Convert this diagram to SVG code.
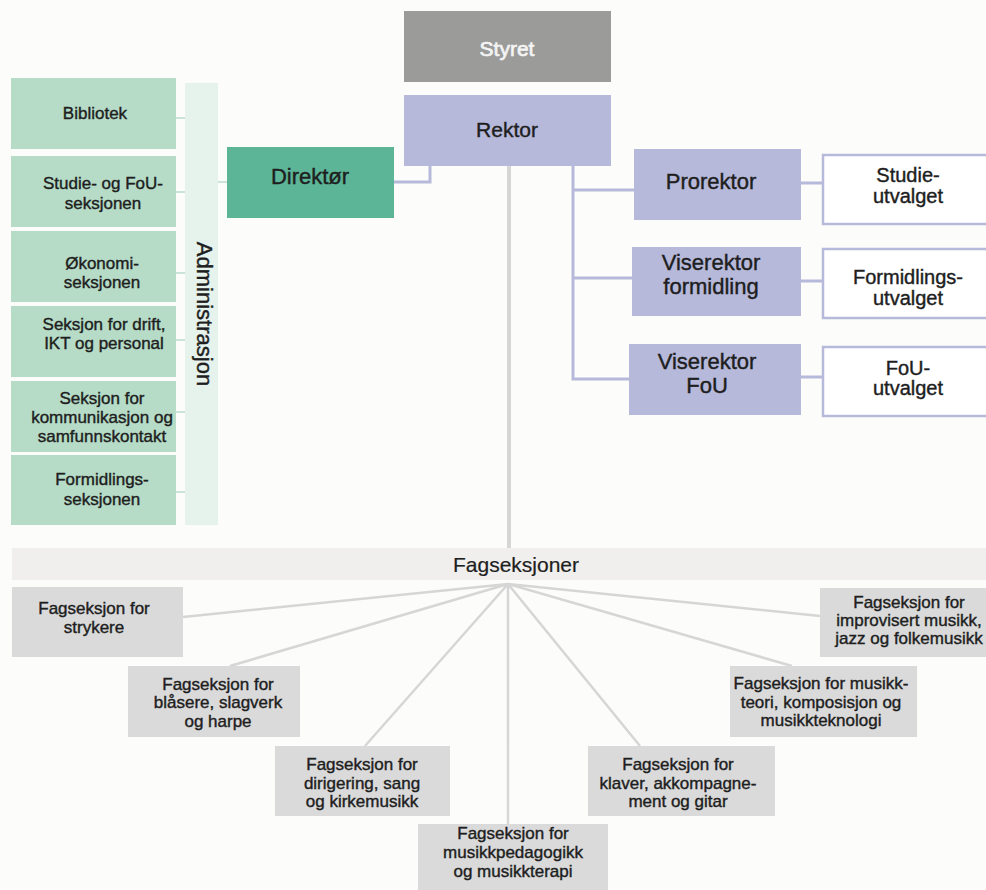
<svg xmlns="http://www.w3.org/2000/svg" width="986" height="890" viewBox="0 0 986 890">
<style>
text{font-family:"Liberation Sans",Arial,sans-serif;fill:#1e1e1e;stroke:#1e1e1e;stroke-width:0.4;text-anchor:middle}
.adm{fill:#b6dcc8}
.lav{fill:#b6b9da}
.com{fill:#ffffff;stroke:#b6b9da;stroke-width:2.5}
.fag{fill:#dadada}
.s17{font-size:17px}
.s20{font-size:20px}
.s22{font-size:22px}
.lavline{stroke:#b6b9da;stroke-width:3;fill:none}
.tick{stroke:#cbe4d7;stroke-width:2;fill:none}
.gray{stroke:#d6d6d6;stroke-width:2.5;fill:none}
</style>
<rect width="986" height="890" fill="#fcfcfa"/>
<g id="connectors">
<path class="lavline" d="M430,166 V182 H394"/>
<path class="lavline" d="M573,166 V379 H629 M573,190 H634 M573,278 H632"/>
<path class="lavline" d="M801,183 H823 M801,281 H823 M801,377 H823"/>
<path class="tick" d="M176,118 H185 M176,192 H185 M176,273 H185 M176,340 H185 M176,412 H185 M176,492 H185 M218,182 H227"/>
<line x1="509" y1="166" x2="509" y2="549" stroke="#d6d6d6" stroke-width="4"/>
<path class="gray" d="M508,584 L183,617 M508,584 L230,666 M508,584 L365,746 M508,584 L508,824 M508,584 L640,746 M508,584 L792,666 M508,584 L820,616"/>
</g>
<g id="styret"><rect x="404" y="11" width="207" height="71" fill="#9b9b9a"/><text x="507" y="56" style="fill:#f4f4f4;stroke:#f4f4f4;stroke-width:0.7;font-size:21px">Styret</text></g>
<g id="rektor"><rect x="404" y="95" width="207" height="71" class="lav"/><text x="507" y="137" style="font-size:21px">Rektor</text></g>
<g id="direktor"><rect x="227" y="147" width="167" height="71" fill="#5bb596"/><text x="310" y="184" class="s22">Direktør</text></g>
<g id="administrasjon"><rect x="185" y="83" width="33" height="442" fill="#e6f2ec"/><text transform="translate(197,314) rotate(90)" style="font-size:22px">Administrasjon</text></g>
<g id="bibliotek"><rect x="11" y="78" width="165" height="71" class="adm"/><text x="95" y="119" class="s17">Bibliotek</text></g>
<g id="studie-fou"><rect x="11" y="156" width="165" height="71" class="adm"/><text x="103" y="189" class="s17">Studie- og FoU-</text><text x="103" y="209" class="s17">seksjonen</text></g>
<g id="okonomi"><rect x="11" y="231" width="165" height="71" class="adm"/><text x="102" y="269" class="s17">Økonomi-</text><text x="102" y="288" class="s17">seksjonen</text></g>
<g id="drift"><rect x="11" y="306" width="165" height="71" class="adm"/><text x="104" y="330" class="s17">Seksjon for drift,</text><text x="104" y="349" class="s17">IKT og personal</text></g>
<g id="kommunikasjon"><rect x="11" y="381" width="165" height="71" class="adm"/><text x="102" y="404" class="s17">Seksjon for</text><text x="102" y="423" class="s17">kommunikasjon og</text><text x="102" y="442" class="s17">samfunnskontakt</text></g>
<g id="formidlingsseksjonen"><rect x="11" y="455" width="165" height="70" class="adm"/><text x="102" y="485" class="s17">Formidlings-</text><text x="102" y="505" class="s17">seksjonen</text></g>
<g id="prorektor"><rect x="634" y="149" width="167" height="71" class="lav"/><text x="711" y="189" class="s22">Prorektor</text></g>
<g id="viserektor-formidling"><rect x="632" y="247" width="169" height="69" class="lav"/><text x="711" y="270" class="s22">Viserektor</text><text x="711" y="294" class="s22">formidling</text></g>
<g id="viserektor-fou"><rect x="629" y="344" width="172" height="71" class="lav"/><text x="707" y="369" class="s22">Viserektor</text><text x="707" y="393" class="s22">FoU</text></g>
<g id="studieutvalget"><rect x="823" y="155" width="180" height="69" class="com"/><text x="908" y="182" class="s20">Studie-</text><text x="908" y="203" class="s20">utvalget</text></g>
<g id="formidlingsutvalget"><rect x="823" y="249" width="180" height="69" class="com"/><text x="908" y="284" class="s20">Formidlings-</text><text x="908" y="305" class="s20">utvalget</text></g>
<g id="fou-utvalget"><rect x="823" y="347" width="180" height="69" class="com"/><text x="908" y="375" class="s20">FoU-</text><text x="908" y="395" class="s20">utvalget</text></g>
<g id="fagseksjoner"><rect x="12" y="548" width="974" height="32" fill="#f0efed"/><text x="516" y="572" style="font-size:21px;stroke-width:0.2">Fagseksjoner</text></g>
<g id="strykere"><rect x="12" y="587" width="171" height="70" class="fag"/><text x="94" y="614" class="s17">Fagseksjon for</text><text x="94" y="633" class="s17">strykere</text></g>
<g id="blasere"><rect x="128" y="666" width="172" height="71" class="fag"/><text x="218" y="690" class="s17">Fagseksjon for</text><text x="218" y="708" class="s17">blåsere, slagverk</text><text x="218" y="727" class="s17">og harpe</text></g>
<g id="dirigering"><rect x="275" y="746" width="175" height="70" class="fag"/><text x="362" y="770" class="s17">Fagseksjon for</text><text x="362" y="789" class="s17">dirigering, sang</text><text x="362" y="807" class="s17">og kirkemusikk</text></g>
<g id="musikkpedagogikk"><rect x="418" y="824" width="190" height="70" class="fag"/><text x="513" y="839" class="s17">Fagseksjon for</text><text x="513" y="858" class="s17">musikkpedagogikk</text><text x="513" y="877" class="s17">og musikkterapi</text></g>
<g id="klaver"><rect x="588" y="746" width="187" height="70" class="fag"/><text x="678" y="770" class="s17">Fagseksjon for</text><text x="678" y="789" class="s17">klaver, akkompagne-</text><text x="678" y="807" class="s17">ment og gitar</text></g>
<g id="musikkteori"><rect x="730" y="666" width="187" height="71" class="fag"/><text x="821" y="689" class="s17">Fagseksjon for musikk-</text><text x="821" y="708" class="s17">teori, komposisjon og</text><text x="821" y="726" class="s17">musikkteknologi</text></g>
<g id="improvisert"><rect x="820" y="588" width="180" height="69" class="fag"/><text x="909" y="608" class="s17">Fagseksjon for</text><text x="909" y="626" class="s17">improvisert musikk,</text><text x="909" y="644" class="s17">jazz og folkemusikk</text></g>
</svg>
